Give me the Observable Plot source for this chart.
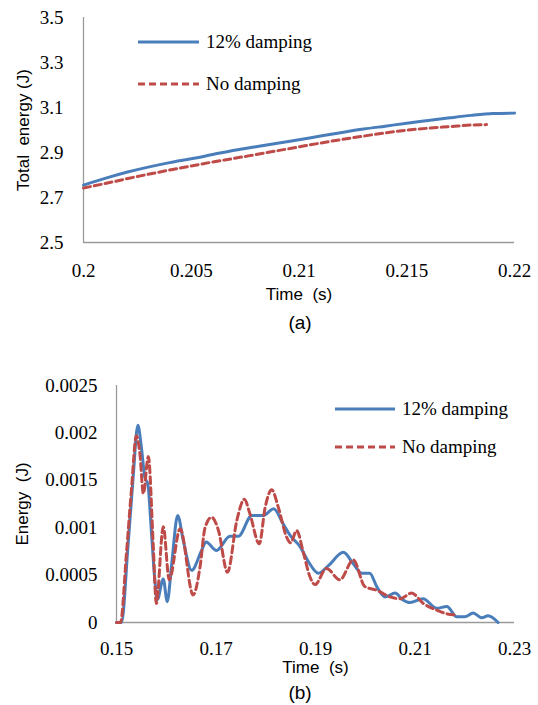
<!DOCTYPE html>
<html>
<head>
<meta charset="utf-8">
<script src="https://cdn.jsdelivr.net/npm/d3@7"></script>
<script src="https://cdn.jsdelivr.net/npm/@observablehq/plot@0.6"></script>
<style>
  body { margin: 0; background: #fff; }
  .chart { position: relative; width: 538px; }
  .cap { width: 538px; box-sizing: border-box; padding-left: 62px; text-align: center;
         font-family: "Liberation Sans", Arial, sans-serif; font-size: 19px; color: #000; }
  .chart svg text { font-family: "Liberation Serif", Tinos, "Times New Roman", "DejaVu Serif", serif; }
  .chart g[aria-label="x-axis label"] text, .chart g[aria-label="y-axis label"] text {
    font-family: "Liberation Sans", Arial, sans-serif !important; font-size: 17px !important; fill: #000;
  }
  .legend { position: absolute; left: 0; top: 0; pointer-events: none; }
  .legend text { font-size: 19px; fill: #000; }
</style>
</head>
<body>
<div id="chartA" class="chart" style="height:308px"></div>
<div class="cap" style="height:30px;line-height:30px">(a)</div>
<div id="chartB" class="chart" style="height:340px"></div>
<div class="cap" style="height:27px;line-height:30px">(b)</div>
<script>
// ---------- Chart (a): total energy ----------
const seriesNames = ["12% damping", "No damping"];
const seriesColors = ["#4A7EBB", "#BE4B48"];

const timeA_damped = [0.200,0.201,0.202,0.203,0.204,0.205,0.206,0.207,0.208,0.209,0.210,0.211,0.212,0.213,0.214,0.215,0.216,0.217,0.218,0.219,0.220];
const energyA_damped = [2.755,2.785,2.812,2.835,2.855,2.872,2.891,2.910,2.926,2.941,2.957,2.973,2.989,3.004,3.017,3.030,3.042,3.054,3.065,3.073,3.075];
const timeA_undamped = [0.200,0.201,0.202,0.203,0.204,0.205,0.206,0.207,0.208,0.209,0.210,0.211,0.212,0.213,0.214,0.215,0.216,0.217,0.218,0.2187];
const energyA_undamped = [2.742,2.762,2.783,2.803,2.822,2.840,2.858,2.874,2.891,2.908,2.925,2.942,2.958,2.973,2.987,2.999,3.008,3.015,3.022,3.024];

const xTicksA = [0.2, 0.205, 0.21, 0.215, 0.22];
const xTickLabelsA = ["0.2", "0.205", "0.21", "0.215", "0.22"];
const yTicksA = [2.5, 2.7, 2.9, 3.1, 3.3, 3.5];
const yTickLabelsA = ["2.5", "2.7", "2.9", "3.1", "3.3", "3.5"];
const xTitleA = "Time  (s)";
const yTitleA = "Total  energy (J)";

// ---------- Chart (b): energy ----------
const timeB_damped = [0.1500,0.1510,0.1523,0.1533,0.1543,0.1550,0.1557,0.1563,0.1570,0.1577,0.1582,0.1594,0.1602,0.1611,0.1623,0.1634,0.1651,0.1671,0.1680,0.1701,0.1728,0.1745,0.1772,0.1795,0.1816,0.1835,0.1849,0.1869,0.1886,0.1906,0.1926,0.1956,0.1976,0.1993,0.2009,0.2023,0.2040,0.2060,0.2075,0.2090,0.2116,0.2144,0.2164,0.2184,0.2200,0.2217,0.2234,0.2247,0.2267];
const energyB_damped = [0,0,0.00080,0.00150,0.00208,0.00185,0.00153,0.00146,0.00097,0.00045,0.00024,0.00046,0.00022,0.00062,0.00113,0.00087,0.00055,0.00076,0.00085,0.00076,0.00091,0.00091,0.00113,0.00113,0.00120,0.00104,0.00092,0.00080,0.00064,0.00052,0.00060,0.00074,0.00062,0.00052,0.00052,0.00038,0.00027,0.00031,0.00024,0.00021,0.00025,0.00015,0.00017,0.00006,0.00006,0.00010,0.00005,0.00007,0.00000];
const timeB_undamped = [0.1500,0.1508,0.1520,0.1530,0.1540,0.1547,0.1554,0.1564,0.1574,0.1580,0.1594,0.1606,0.1628,0.1654,0.1668,0.1678,0.1691,0.1705,0.1723,0.1742,0.1757,0.1768,0.1787,0.1799,0.1812,0.1825,0.1842,0.1850,0.1862,0.1876,0.1889,0.1899,0.1922,0.1949,0.1976,0.1999,0.2023,0.2050,0.2070,0.2093,0.2117,0.2144,0.2165,0.2181];
const energyB_undamped = [0,0,0.00073,0.00140,0.00197,0.00178,0.00136,0.00175,0.00080,0.00020,0.00101,0.00045,0.00099,0.00029,0.00059,0.00100,0.00111,0.00097,0.00053,0.00108,0.00130,0.00115,0.00083,0.00122,0.00140,0.00122,0.00090,0.00084,0.00097,0.00073,0.00048,0.00040,0.00057,0.00045,0.00066,0.00038,0.00034,0.00027,0.00025,0.00031,0.00020,0.00013,0.00009,0.00008];

const xTicksB = [0.15, 0.17, 0.19, 0.21, 0.23];
const xTickLabelsB = ["0.15", "0.17", "0.19", "0.21", "0.23"];
const yTicksB = [0, 0.0005, 0.001, 0.0015, 0.002, 0.0025];
const yTickLabelsB = ["0", "0.0005", "0.001", "0.0015", "0.002", "0.0025"];
const xTitleB = "Time  (s)";
const yTitleB = "Energy  (J)";

function rows(ts, vs, name) { return ts.map((t, i) => ({t, v: vs[i], series: name})); }
function labeler(ticks, labels) { const m = new Map(ticks.map((d, i) => [d, labels[i]])); return d => m.get(d); }

const axisColor = "#9a9a9a";
const serif = '"Liberation Serif", Tinos, "Times New Roman", "DejaVu Serif", serif';

function makeChart(cfg) {
  const xDom = [cfg.xTicks[0], cfg.xTicks[cfg.xTicks.length - 1]];
  const yDom = [cfg.yTicks[0], cfg.yTicks[cfg.yTicks.length - 1]];
  return Plot.plot({
    width: 538, height: cfg.height,
    marginTop: cfg.mt, marginBottom: cfg.mb, marginLeft: cfg.ml, marginRight: cfg.mr,
    style: {fontFamily: serif, fontSize: "19px", color: "#000", background: "transparent", overflow: "visible"},
    x: {domain: xDom},
    y: {domain: yDom},
    marks: [
      Plot.axisX({ticks: cfg.xTicks, tickFormat: labeler(cfg.xTicks, cfg.xLabels), tickSize: 0, tickPadding: cfg.xPad,
                  fontFamily: serif, fontSize: 19,
                  label: cfg.xTitle, labelAnchor: "center", labelOffset: cfg.xLabelOffset, labelArrow: "none"}),
      Plot.axisY({ticks: cfg.yTicks, tickFormat: labeler(cfg.yTicks, cfg.yLabels), tickSize: 0, tickPadding: cfg.yPad,
                  fontFamily: serif, fontSize: 19,
                  label: cfg.yTitle, labelAnchor: "center", labelOffset: cfg.yLabelOffset, labelArrow: "none"}),
      Plot.ruleX([xDom[0]], {stroke: axisColor, strokeWidth: 1.3}),
      Plot.ruleY([yDom[0]], {stroke: axisColor, strokeWidth: 1.3}),
      Plot.line(cfg.damped, {x: "t", y: "v", stroke: seriesColors[0], strokeWidth: 3, curve: "monotone-x"}),
      Plot.line(cfg.undamped, {x: "t", y: "v", stroke: seriesColors[1], strokeWidth: 3, strokeDasharray: "7,4", curve: "monotone-x"})
    ]
  });
}

function addLegend(container, x0, x1, tx, ys) {
  const svg = d3.create("svg").attr("class", "legend").attr("width", 538).attr("height", 200);
  seriesNames.forEach((name, i) => {
    const ln = svg.append("line").attr("x1", x0).attr("x2", x1).attr("y1", ys[i]).attr("y2", ys[i])
      .attr("stroke", seriesColors[i]).attr("stroke-width", 3);
    if (i === 1) ln.attr("stroke-dasharray", "7,4");
    svg.append("text").attr("x", tx).attr("y", ys[i]).attr("dy", "0.33em")
      .attr("font-family", serif).style("font-family", serif).text(name);
  });
  container.append(svg.node());
}

const elA = document.getElementById("chartA");
elA.append(makeChart({
  height: 308, mt: 17, mb: 66, ml: 83, mr: 24,
  xTicks: xTicksA, xLabels: xTickLabelsA, yTicks: yTicksA, yLabels: yTickLabelsA,
  xTitle: xTitleA, yTitle: yTitleA, xPad: 21, yPad: 20, xLabelOffset: 57, yLabelOffset: 67,
  damped: rows(timeA_damped, energyA_damped, seriesNames[0]),
  undamped: rows(timeA_undamped, energyA_undamped, seriesNames[1])
}));
addLegend(elA, 138, 199, 206, [42, 84]);

const elB = document.getElementById("chartB");
elB.append(makeChart({
  height: 340, mt: 47, mb: 56, ml: 116, mr: 24,
  xTicks: xTicksB, xLabels: xTickLabelsB, yTicks: yTicksB, yLabels: yTickLabelsB,
  xTitle: xTitleB, yTitle: yTitleB, xPad: 19, yPad: 19, xLabelOffset: 50, yLabelOffset: 101,
  damped: rows(timeB_damped, energyB_damped, seriesNames[0]),
  undamped: rows(timeB_undamped, energyB_undamped, seriesNames[1])
}));
addLegend(elB, 335, 395, 402, [71, 109]);
</script>
</body>
</html>
